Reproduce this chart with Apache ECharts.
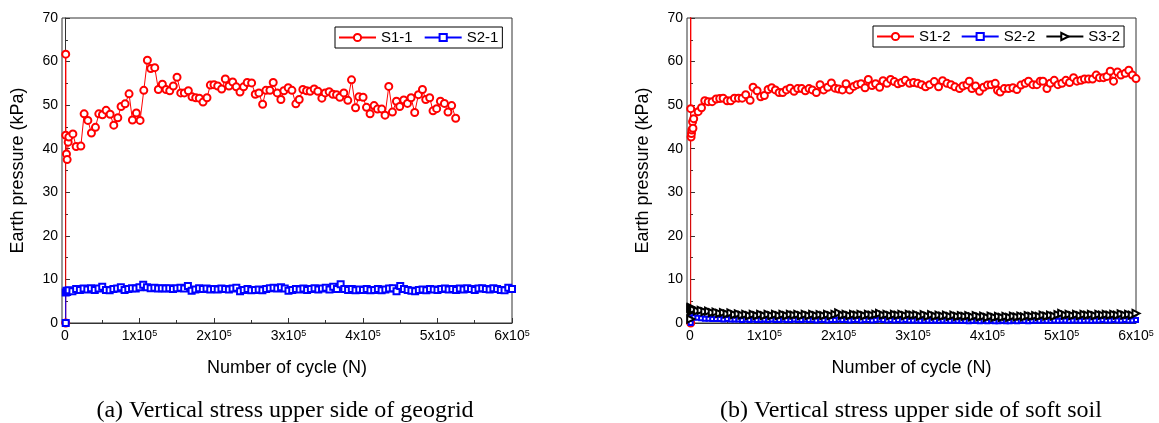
<!DOCTYPE html>
<html>
<head>
<meta charset="utf-8">
<script src="https://cdn.jsdelivr.net/npm/echarts@6/dist/echarts.min.js"></script>
<style>html,body{margin:0;padding:0;background:#fff}#c{width:1159px;height:423px}</style>
</head>
<body>
<div id="c"></div>
<script>
// ---- data ----
var xTickValues = [0, 100000, 200000, 300000, 400000, 500000, 600000];
var xMinorValues = [50000, 150000, 250000, 350000, 450000, 550000];
var yTicks = [0, 10, 20, 30, 40, 50, 60, 70];

// S1-1 : [cycles, kPa]
var s11 = [[1000,0],[1000,61.7],[1000,43.1],[2000,38.8],[2900,37.5],[4300,41.5],[5200,42.7],
[10600,43.4],[15000,40.5],[21300,40.6],[25700,48.0],[30700,46.5],[35500,43.6],[40900,44.9],[45400,48.0],
[50300,47.8],[55200,48.8],[60600,47.9],[65500,45.4],[70900,47.1],[75300,49.7],[80700,50.3],[86000,52.6],
[90500,46.6],[95800,48.2],[100800,46.5],[105800,53.4],[110600,60.3],[115100,58.4],[120500,58.6],[125300,53.6],
[130700,54.8],[135700,53.6],[140600,53.3],[145400,54.4],[150400,56.4],[155400,52.8],[160200,52.8],[165600,53.3],
[170500,51.9],[175500,51.7],[180300,51.6],[185300,50.7],[190600,51.7],[195100,54.6],[200000,54.7],[205000,54.4],
[210300,53.7],[215200,56.0],[220100,54.4],[225100,55.3],[229900,54.2],[234900,53.0],[239800,54.2],[244600,55.2],
[250500,55.1],[255400,52.5],[260300,52.8],[265300,50.2],[269700,53.4],[275100,53.4],[279500,55.2],[284900,52.8],
[289800,51.3],[293800,53.3],[299600,54.0],[304600,53.4],[309900,50.3],[314400,51.3],[319300,53.6],[324300,53.3],
[329100,53.2],[334500,53.7],[339400,53.2],[344800,51.6],[349200,52.8],[354600,53.1],[359500,52.5],[364500,52.4],
[368900,51.8],[374300,52.8],[379600,51.1],[384600,55.8],[390000,49.4],[394400,51.9],[400100,51.8],[404700,49.5],
[409500,48.0],[414900,49.9],[419400,49.1],[425200,49.1],[429600,47.7],[434600,54.3],[439500,48.4],[444900,50.9],
[449300,49.7],[454700,51.2],[459700,50.4],[464500,51.7],[469400,48.3],[474400,52.4],[479800,53.6],[484200,51.3],
[489500,51.7],[494000,48.7],[498900,49.2],[503900,50.9],[509300,50.4],[514100,48.4],[519000,49.9],[524400,47.0]];

// common reading positions (cycles) for the dense series
var cyc = [5000,10000,15000,20000,25000,30000,35000,40000,45000,50000,55000,60000,65000,70000,75000,80000,85000,90000,95000,100000,
105000,110000,115000,120000,125000,130000,135000,140000,145000,150000,155000,160000,165000,170000,175000,180000,185000,190000,195000,200000,
205000,210000,215000,220000,225000,230000,235000,240000,245000,250000,255000,260000,265000,270000,275000,280000,285000,290000,295000,300000,
305000,310000,315000,320000,325000,330000,335000,340000,345000,350000,355000,360000,365000,370000,375000,380000,385000,390000,395000,400000,
405000,410000,415000,420000,425000,430000,435000,440000,445000,450000,455000,460000,465000,470000,475000,480000,485000,490000,495000,500000,
505000,510000,515000,520000,525000,530000,535000,540000,545000,550000,555000,560000,565000,570000,575000,580000,585000,590000,595000,600000];

var s21Start = [[1000,0],[1000,7.0],[2000,7.4],[3000,7.1]];
var s21 = [7.5,7.3,7.8,7.6,7.9,7.7,8.0,7.6,7.9,8.3,7.6,7.5,7.8,7.9,8.2,7.6,7.8,8.0,7.9,8.2,
8.8,8.2,8.0,8.1,7.9,8.0,7.9,8.0,7.8,8.0,8.1,7.9,8.5,7.4,7.7,8.0,7.8,7.9,7.7,7.8,
7.7,7.9,7.8,7.7,7.9,8.1,7.3,7.6,7.8,7.5,7.6,7.7,7.5,7.8,8.0,8.1,7.9,8.2,7.9,7.4,
7.6,7.8,7.7,7.9,7.6,7.8,8.0,7.7,7.9,8.1,7.7,8.3,7.8,8.9,7.8,7.6,7.8,7.5,7.7,7.6,
7.8,7.5,7.6,7.8,7.5,7.7,7.9,8.0,7.3,8.5,7.8,7.6,7.4,7.3,7.6,7.7,7.5,7.8,7.7,7.6,
7.8,7.9,7.7,7.8,7.6,7.9,7.7,8.0,7.8,7.6,7.9,8.0,7.8,7.7,8.0,7.8,7.6,7.5,8.1,7.8];

// S1-2 : [cycles, kPa]  (first spike exceeds the 70 kPa frame)
var s12 = [[1000,0],[1000,80],[1000,49.2],[1500,42.7],[2000,43.5],[2500,44.3],[3500,46.2],[4000,44.7],[5000,46.9],
[11000,48.5],[15500,49.4],[19900,51.0],[24500,50.8],[29800,50.8],[35200,51.4],[40000,51.5],[44600,51.6],[50000,51.0],
[54800,51.0],[59800,51.6],[65200,51.6],[70200,51.6],[75000,52.4],[80900,51.1],[84900,54.1],[90300,53.3],[95200,51.9],
[100100,52.2],[105100,53.6],[109900,54.0],[114900,53.5],[119900,52.9],[124700,52.9],[129700,53.5],[134700,53.9],
[140000,53.2],[144900,53.8],[150300,53.8],[155200,53.3],[160200,53.8],[164600,53.5],[170000,52.9],[175000,54.7],
[179800,53.5],[185200,54.1],[190200,55.1],[195100,53.9],[200000,53.7],[205000,53.5],[209900,54.9],[214800,53.5],
[220200,54.3],[224700,54.7],[230100,54.9],[235500,54.0],[239900,55.9],[244900,54.5],[249700,54.9],[255100,54.1],
[259700,55.6],[265000,55.0],[269900,55.9],[274800,55.4],[279800,54.9],[284700,55.2],[289600,55.7],[295400,55.0],
[300800,55.2],[306200,55.0],[311500,54.7],[316900,54.2],[322300,54.7],[328600,55.4],[334400,54.2],[339800,55.6],
[345700,55.0],[351100,54.7],[356400,54.2],[362600,53.8],[367200,54.4],[372600,54.7],[375700,55.5],[379300,53.8],
[384200,54.4],[389500,53.2],[394900,54.1],[400200,54.6],[405200,54.7],[410600,55.0],[413700,53.4],[417300,53.0],
[422700,53.8],[428500,53.8],[434400,54.0],[439800,53.6],[445200,54.6],[450900,55.0],[455400,55.5],[461300,54.7],
[466700,54.7],[471100,55.5],[474800,55.5],[480200,53.8],[484600,55.0],[490000,55.7],[495000,54.7],[500400,55.0],
[505700,55.7],[510600,55.2],[516000,56.3],[520500,55.5],[525900,55.7],[530700,56.0],[536100,56.0],[541500,56.0],
[546500,56.9],[550900,56.3],[556300,56.3],[560900,56.6],[565300,57.8],[569800,55.5],[575100,57.6],[579700,56.9],
[585500,57.3],[590300,58.0],[595100,56.9],[600000,56.1]];

var s22Start = [[1000,0],[1000,3.2],[1500,1.8],[2500,1.2]];
var s22 = [1.3,1.2,1.1,1.0,1.0,0.9,0.9,0.9,0.8,0.9,0.8,0.8,0.8,0.7,0.8,0.7,0.8,0.7,0.7,0.8,
0.7,0.8,0.7,0.7,0.8,0.7,0.7,0.8,0.7,0.7,0.8,0.7,0.7,0.6,0.7,0.7,0.6,0.7,0.7,0.8,
0.7,0.7,0.6,0.7,0.7,0.6,0.7,0.7,0.6,0.7,0.8,0.7,0.6,0.7,0.6,0.7,0.6,0.7,0.6,0.6,
0.6,0.5,0.6,0.6,0.5,0.6,0.5,0.6,0.5,0.5,0.6,0.5,0.5,0.5,0.4,0.5,0.5,0.4,0.5,0.4,
0.5,0.4,0.4,0.5,0.4,0.4,0.5,0.4,0.5,0.5,0.4,0.5,0.5,0.5,0.6,0.5,0.5,0.6,0.5,0.6,
0.6,0.5,0.6,0.6,0.5,0.6,0.6,0.5,0.6,0.6,0.7,0.6,0.6,0.7,0.6,0.6,0.7,0.6,0.6,0.7];

var s32Start = [[1000,0.9],[1000,3.4],[1500,3.6],[2000,2.7],[3000,3.2],[4000,2.9]];
var s32 = [3.1,2.8,2.9,2.6,2.7,2.4,2.5,2.2,2.4,2.1,2.3,1.9,2.1,1.8,2.0,1.7,2.0,1.7,2.0,1.7,
2.0,1.7,2.0,1.7,2.0,1.7,2.0,1.8,2.0,1.7,2.0,1.7,2.0,1.7,1.9,1.7,2.0,1.7,2.0,2.3,
1.8,2.0,1.7,2.0,1.8,2.0,1.7,2.0,1.8,2.0,2.2,1.8,2.0,1.7,2.0,1.8,2.0,1.7,2.0,1.8,
1.9,1.6,1.9,1.6,1.9,1.6,1.8,1.6,1.8,1.5,1.8,1.5,1.7,1.5,1.7,1.4,1.7,1.4,1.6,1.3,
1.6,1.3,1.5,1.3,1.5,1.3,1.6,1.4,1.6,1.4,1.7,1.5,1.7,1.5,1.8,1.6,1.8,1.6,1.9,2.2,
1.8,2.0,1.7,2.0,1.7,2.0,1.8,2.0,1.7,2.0,1.8,2.0,1.8,2.0,1.8,2.1,1.8,2.0,1.8,2.2];

function pairs(start, ys) {
  return start.concat(ys.map(function (y, i) { return [cyc[i], y]; }));
}

// ---- chart ----
var SANS = '"Liberation Sans", Arial, sans-serif';
var SERIF = '"Liberation Serif", "Times New Roman", serif';
var AX = '#333';

function xAxisMain(grid) {
  return {
    type: 'value', gridIndex: grid, min: -4000, max: 600000,
    name: 'Number of cycle (N)', nameLocation: 'middle', nameGap: 36,
    nameTextStyle: { fontFamily: SANS, fontSize: 18, color: '#000' },
    axisLine: { show: true, lineStyle: { color: AX, width: 1 } },
    axisTick: { show: true, inside: true, length: 5, customValues: xTickValues, lineStyle: { color: AX } },
    axisLabel: {
      customValues: xTickValues, margin: 6, fontFamily: SANS, fontSize: 14, color: '#000',
      formatter: function (v) { return v === 0 ? '0' : (v / 100000) + 'x10{sup|5}'; },
      rich: { sup: { fontSize: 9, verticalAlign: 'top', fontFamily: SANS, color: '#000' } }
    },
    splitLine: { show: false }
  };
}
function xAxisMinor(grid) {
  return {
    type: 'value', gridIndex: grid, min: -4000, max: 600000, position: 'bottom',
    axisLine: { show: false },
    axisTick: { show: true, inside: true, length: 3, customValues: xMinorValues, lineStyle: { color: AX } },
    axisLabel: { show: false }, splitLine: { show: false }
  };
}
function yAxis(grid) {
  return {
    type: 'value', gridIndex: grid, min: yTicks[0], max: yTicks[yTicks.length - 1], interval: 10,
    name: 'Earth pressure (kPa)', nameLocation: 'middle', nameGap: 35,
    nameTextStyle: { fontFamily: SANS, fontSize: 18, color: '#000' },
    axisLine: { show: true, lineStyle: { color: AX, width: 1 } },
    axisTick: { show: true, inside: true, length: 5, lineStyle: { color: AX } },
    minorTick: { show: true, splitNumber: 2, length: 3, lineStyle: { color: AX } },
    axisLabel: { margin: 4, fontFamily: SANS, fontSize: 14, color: '#000' },
    splitLine: { show: false }
  };
}
function lineSeries(name, data, xi, yi, color, symbol, size, extra) {
  var s = {
    name: name, type: 'line', data: data, xAxisIndex: xi, yAxisIndex: yi,
    symbol: symbol, symbolSize: size, showAllSymbol: true,
    lineStyle: { color: color, width: 1 },
    itemStyle: { color: color, borderColor: color, borderWidth: 1 },
    animation: false, clip: true
  };
  if (extra) for (var k in extra) s[k] = extra[k];
  return s;
}

var chart = echarts.init(document.getElementById('c'), null, { renderer: 'canvas' });
chart.setOption({
  backgroundColor: '#fff',
  animation: false,
  grid: [
    { left: 62, top: 18, width: 450, height: 305, show: true, borderColor: AX, borderWidth: 1, backgroundColor: 'transparent' },
    { left: 687, top: 18, width: 449, height: 305, show: true, borderColor: AX, borderWidth: 1, backgroundColor: 'transparent' }
  ],
  xAxis: [xAxisMain(0), xAxisMinor(0), xAxisMain(1), xAxisMinor(1)],
  yAxis: [yAxis(0), yAxis(1)],
  legend: [
    { data: ['S1-1', 'S2-1'], left: 335, top: 27, orient: 'horizontal',
      itemWidth: 37, itemHeight: 9, itemGap: 11, padding: [3, 4, 3, 3],
      borderColor: '#000', borderWidth: 1, backgroundColor: '#fff',
      textStyle: { fontFamily: SANS, fontSize: 15, color: '#000' } },
    { data: ['S1-2', 'S2-2', 'S3-2'], left: 873, top: 26, orient: 'horizontal',
      itemWidth: 37, itemHeight: 9, itemGap: 10, padding: [3, 4, 3, 3],
      borderColor: '#000', borderWidth: 1, backgroundColor: '#fff',
      textStyle: { fontFamily: SANS, fontSize: 15, color: '#000' } }
  ],
  graphic: [
    { type: 'text', x: 285, y: 411, style: { text: '(a) Vertical stress upper side of geogrid', font: '24px ' + SERIF, fill: '#000', textAlign: 'center', textVerticalAlign: 'middle' } },
    { type: 'text', x: 911, y: 411, style: { text: '(b) Vertical stress upper side of soft soil', font: '24px ' + SERIF, fill: '#000', textAlign: 'center', textVerticalAlign: 'middle' } }
  ],
  series: [
    lineSeries('S1-1', s11, 0, 0, '#ff0000', 'emptyCircle', 7),
    lineSeries('S2-1', pairs(s21Start, s21), 0, 0, '#0000ff', 'emptyRect', 6),
    lineSeries('S1-2', s12, 2, 1, '#ff0000', 'emptyCircle', 7),
    lineSeries('S2-2', pairs(s22Start, s22), 2, 1, '#0000ff', 'emptyRect', 4),
    lineSeries('S3-2', pairs(s32Start, s32), 2, 1, '#000000', 'emptyTriangle', 7, { symbolRotate: -90 })
  ]
});
</script>
</body>
</html>
